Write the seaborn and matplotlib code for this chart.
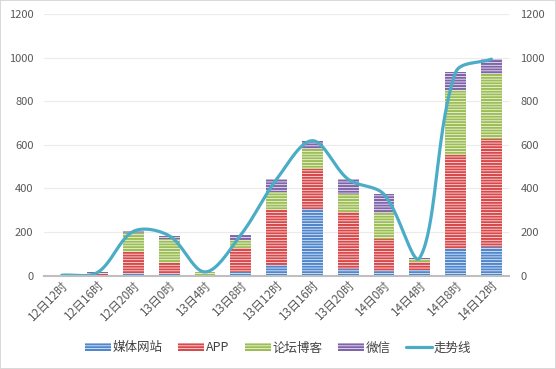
import numpy as np
import matplotlib
matplotlib.use("Agg")
import matplotlib.pyplot as plt
from matplotlib.patches import Patch
from matplotlib.lines import Line2D
import seaborn as sns

# data
times = ["12日12时", "12日16时", "12日20时", "13日0时", "13日4时", "13日8时", "13日12时",
         "13日16时", "13日20时", "14日0时", "14日4时", "14日8时", "14日12时"]
media = [0, 3, 10, 8, 2, 18, 48, 305, 32, 22, 26, 122, 130]
app = [0, 4, 98, 48, 2, 108, 254, 182, 262, 146, 36, 430, 495]
forum = [0, 5, 87, 113, 11, 38, 80, 92, 80, 120, 16, 300, 300]
wechat = [0, 3, 8, 14, 2, 23, 60, 40, 68, 85, 4, 80, 68]
trend = [2, 15, 203, 183, 17, 187, 442, 619, 442, 373, 82, 932, 993]

series_names = ["媒体网站", "APP", "论坛博客", "微信"]
series_vals = [media, app, forum, wechat]
colors = ["#4F86CC", "#D9484A", "#9DBE55", "#8064AA"]
line_color = "#4BACC6"

sns.set_style("white")
plt.rcParams["font.family"] = ["Noto Sans CJK SC", "DejaVu Sans"]
plt.rcParams["hatch.color"] = "white"
plt.rcParams["hatch.linewidth"] = 0.5

fig = plt.figure(figsize=(5.56, 3.69), dpi=100)
fig.patch.set_edgecolor("#D9D9D9")
fig.patch.set_linewidth(1.2)
ax = fig.add_axes([0.079, 0.253, 0.837, 0.709])

# stacked bars: draw cumulative totals from top layer down
cum = np.cumsum(np.array(series_vals), axis=0)
for i in range(len(series_names) - 1, -1, -1):
    sns.barplot(x=times, y=cum[i], color=colors[i], width=0.58, ax=ax,
                saturation=1, edgecolor="white", linewidth=0, hatch="------",
                zorder=2)

# smoothed trend line, Excel style: Bezier control points scaled by
# neighbouring segment lengths in screen space
px_x, px_y = 35.8, 261 / 1200
P = np.column_stack([np.arange(len(trend)), np.array(trend, dtype=float)])
S = P * [px_x, px_y]
n = len(S)
k = 1 / 3
path_x, path_y = [], []
for i in range(n - 1):
    p0, p1 = S[i], S[i + 1]
    prev = S[i - 1] if i > 0 else S[i]
    nxt = S[i + 2] if i + 2 < n else S[i + 1]
    l01 = np.linalg.norm(p1 - p0)
    la = np.linalg.norm(p0 - prev)
    lb = np.linalg.norm(nxt - p1)
    c1 = p0 + (p1 - prev) * k * l01 / (la + l01)
    c2 = p1 - (nxt - p0) * k * l01 / (l01 + lb)
    t = np.linspace(0, 1, 40)[:, None]
    b = (1 - t) ** 3 * p0 + 3 * (1 - t) ** 2 * t * c1 + 3 * (1 - t) * t ** 2 * c2 + t ** 3 * p1
    path_x.append(b[:, 0] / px_x)
    path_y.append(b[:, 1] / px_y)
ax.plot(np.concatenate(path_x), np.concatenate(path_y), color=line_color, lw=2.3,
        zorder=4, solid_capstyle="round")

ax.set_xlim(-0.5, len(times) - 0.5)
ax.set_ylim(0, 1200)
ax.set_yticks(range(0, 1201, 200))
ax.grid(axis="y", color="#EBEBEB", lw=0.8, zorder=0)
ax.set_axisbelow(True)
for s in ["top", "right", "left"]:
    ax.spines[s].set_visible(False)
ax.spines["bottom"].set_color("#BFBFBF")
ax.spines["bottom"].set_linewidth(1.5)
ax.spines["bottom"].set_zorder(5)
ax.tick_params(axis="y", length=0, labelsize=8, labelcolor="#595959", pad=7.5)
ax.tick_params(axis="x", length=0, labelsize=8.5, labelcolor="#595959", pad=2)
ax.set_xticks(range(len(times)))
ax.set_xticklabels(times, rotation=45, ha="right", rotation_mode="anchor")
ax.set_xlabel("")
ax.set_ylabel("")

ax2 = ax.twinx()
ax2.set_ylim(0, 1200)
ax2.set_yticks(range(0, 1201, 200))
for s in ax2.spines.values():
    s.set_visible(False)
ax2.tick_params(axis="y", length=0, labelsize=8, labelcolor="#595959", pad=8)

handles = [Patch(facecolor=c, edgecolor="white", linewidth=0, hatch="------", label=nm)
           for c, nm in zip(colors, series_names)]
handles.append(Line2D([0], [0], color=line_color, lw=2.3, label="走势线"))
fig.legend(handles=handles, loc="center", bbox_to_anchor=(0.5, 0.057), ncol=5,
           frameon=False, fontsize=9, handlelength=2.1, handleheight=0.55,
           handletextpad=0.1, columnspacing=1.25, labelcolor="#404040")

plt.savefig("out.png", dpi=100)
print("Saved chart to out.png")
